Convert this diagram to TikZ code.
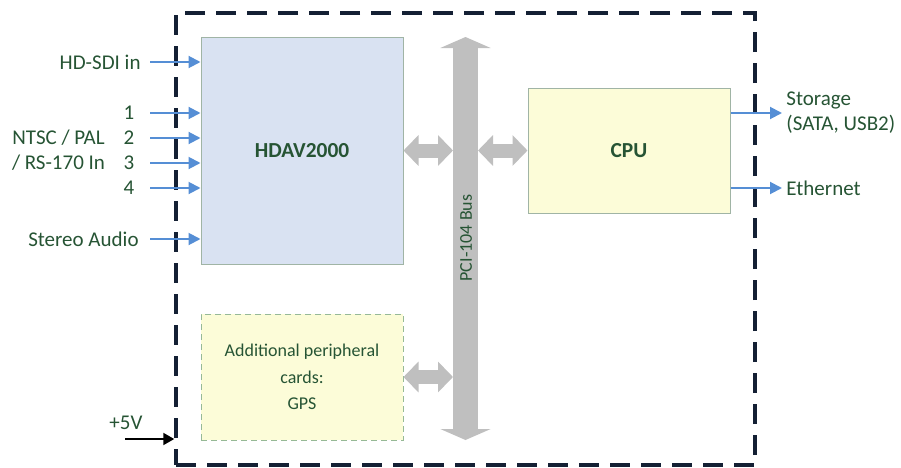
\documentclass[tikz,border=0pt]{standalone}
\usepackage{fontspec}
\setmainfont{Carlito}
\usepackage{tikz}
\usetikzlibrary{arrows.meta,positioning}
\definecolor{txtgreen}{RGB}{38,84,52}
\definecolor{bluearrow}{RGB}{85,142,213}
\definecolor{hdavblue}{RGB}{217,226,242}
\definecolor{cpuyellow}{RGB}{252,252,216}
\definecolor{boxline}{RGB}{160,180,165}
\definecolor{periphline}{RGB}{150,185,150}
\definecolor{busgray}{RGB}{191,191,191}
\definecolor{framenavy}{RGB}{20,32,52}

\begin{document}
\begin{tikzpicture}[x=0.5pt,y=-0.5pt,
  lbl/.style={text=txtgreen,font=\fontsize{10.5}{12.5}\selectfont,inner sep=0pt},
  box/.style={draw=boxline,line width=0.5pt,minimum width=101pt,inner sep=0pt,text=txtgreen,font=\fontsize{10.7}{13}\selectfont\bfseries},
  board/.style={draw=framenavy,line width=1.75pt,dash pattern=on 10pt off 5.5pt,minimum width=289.5pt,minimum height=226pt},
  inarrow/.style={draw=bluearrow,line width=1pt,-{Triangle[length=6pt,width=6pt]}},
  pwrarrow/.style={draw=black,line width=1pt,-{Triangle[length=5.5pt,width=6pt]}},
  bus/.style={draw=busgray,line width=12.5pt,{Triangle[length=5.5pt,width=25pt]}-{Triangle[length=5.5pt,width=25pt]}},
  link/.style={draw=busgray,line width=7pt,{Triangle[length=7.5pt,width=15pt]}-{Triangle[length=7.5pt,width=15pt]}}]
\useasboundingbox (0,0) rectangle (901,467);
\node[board] (board) at (465.5,239) {};
\node[box,fill=hdavblue,minimum height=113.5pt] (hdav) at (302,150.5) {HDAV2000};
\node[box,fill=cpuyellow,minimum height=62.5pt] (cpu) at (629,150.5) {CPU};
\node[box,fill=cpuyellow,draw=periphline,densely dashed,minimum height=63pt,align=center,
  font=\fontsize{9}{13.25}\selectfont] (periph) at (302,377) {Additional peripheral\\cards:\\GPS};

\coordinate (bustop) at (465.5,37);
\coordinate (busbot) at (465.5,440);
\draw[bus] (busbot) -- (bustop);
\node[lbl,font=\fontsize{9}{11}\selectfont,rotate=90] (buslabel) at (466,238) {PCI-104 Bus};
\coordinate (busl) at (453,0);
\coordinate (busr) at (478,0);
\draw[link] (hdav.east) -- (hdav.east -| busl);
\draw[link] (cpu.west -| busr) -- (cpu.west);
\draw[link] (periph.east) -- (periph.east -| busl);

\node[lbl,anchor=east] (sdi) at (141,62) {HD-SDI in};
\coordinate (sdiin) at (150,62);
\draw[inarrow] (sdiin) -- (sdiin -| hdav.west);
\foreach \n/\y in {1/113,2/138,3/163,4/188}{
  \node[lbl] (ch\n) at (129,\y) {\n};
  \coordinate (in\n) at (150,\y);
  \draw[inarrow] (in\n) -- (in\n -| hdav.west);
}
\node[lbl,align=center] (ntsc) at (58.5,150.5) {NTSC / PAL\\/ RS-170 In};
\node[lbl,anchor=east] (audio) at (139,239) {Stereo Audio};
\coordinate (audioin) at (150,239);
\draw[inarrow] (audioin) -- (audioin -| hdav.west);

\coordinate (storout) at (782,113);
\coordinate (ethout) at (782,188);
\draw[inarrow] (storout -| cpu.east) -- (storout);
\draw[inarrow] (ethout -| cpu.east) -- (ethout);
\node[lbl,anchor=west,align=left] (storage) at (786,112.5) {Storage\\(SATA, USB2)};
\node[lbl,anchor=west] (eth) at (786,188) {Ethernet};

\coordinate (pwr) at (125,439);
\draw[pwrarrow] (pwr) -- (pwr -| board.west);
\node[lbl] (vcc) at (126,423) {+5V};
\end{tikzpicture}
\end{document}
